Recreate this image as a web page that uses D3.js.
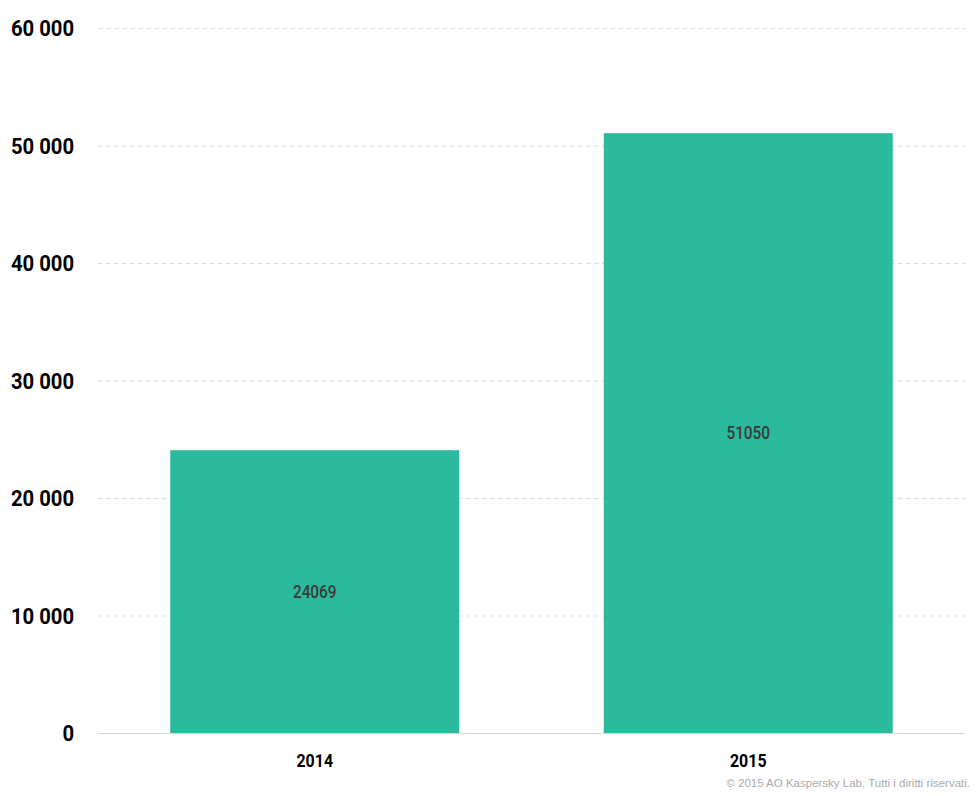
<!DOCTYPE html>
<html>
<head>
<meta charset="utf-8">
<script src="https://cdn.jsdelivr.net/npm/d3@7"></script>
<style>
  body { margin: 0; background: #fff; }
  svg { display: block; }
  .cond { font-family: Roboto, 'DejaVu Sans', sans-serif; }
</style>
</head>
<body>
<svg id="chart" width="979" height="796"></svg>
<script>
var years = ["2014", "2015"];
var counts = [24069, 51050];
var yTicks = [0, 10000, 20000, 30000, 40000, 50000, 60000];
var copyright = "© 2015 AO Kaspersky Lab. Tutti i diritti riservati.";

var svg = d3.select("#chart");
var plotLeft = 98, plotRight = 965, plotTop = 28, plotBottom = 733;

var x = d3.scaleBand().domain(years).range([plotLeft, plotRight])
  .paddingInner(1 / 3).paddingOuter(1 / 6);
var y = d3.scaleLinear().domain([0, 60000]).range([plotBottom, plotTop]);

// squeezes a label horizontally to mimic the condensed face
function squeezed(sel, px, py, sx) {
  return sel.append("g")
    .attr("transform", function(d, i) { return "translate(" + px(d, i) + "," + py(d, i) + ") scale(" + sx + ",1)"; })
    .append("text")
    .attr("class", "cond")
    .attr("dy", "0.36em");
}

// gridlines
svg.append("g").selectAll("line").data(yTicks.filter(function(t) { return t > 0; }))
  .enter().append("line")
  .attr("x1", plotLeft).attr("x2", plotRight)
  .attr("y1", function(d) { return y(d) + 0.5; })
  .attr("y2", function(d) { return y(d) + 0.5; })
  .style("stroke", "#dcdcdc")
  .style("stroke-dasharray", "5,3");

// y tick labels
squeezed(svg.append("g").selectAll("g").data(yTicks).enter(),
    function() { return 74; }, function(d) { return y(d); }, 0.9)
  .attr("text-anchor", "end")
  .style("font-weight", "bold")
  .style("font-size", "22.5px")
  .style("fill", "#000")
  .text(function(d) { return d === 0 ? "0" : d3.format(",")(d).replace(",", " "); });

// bars
svg.append("g").selectAll("rect").data(counts)
  .enter().append("rect")
  .attr("x", function(d, i) { return x(years[i]); })
  .attr("y", function(d) { return y(d); })
  .attr("width", x.bandwidth())
  .attr("height", function(d) { return plotBottom - y(d); })
  .style("fill", "#2bbb9c");

// value labels
squeezed(svg.append("g").selectAll("g").data(counts).enter(),
    function(d, i) { return x(years[i]) + x.bandwidth() / 2; },
    function(d) { return (y(d) + plotBottom) / 2; }, 0.88)
  .attr("text-anchor", "middle")
  .style("font-weight", "500")
  .style("font-size", "17.5px")
  .style("fill", "#3a3a3a")
  .text(function(d) { return d; });

// baseline
svg.append("line")
  .attr("x1", plotLeft).attr("x2", plotRight)
  .attr("y1", plotBottom + 0.5).attr("y2", plotBottom + 0.5)
  .style("stroke", "#d6d6d6");

// x labels
squeezed(svg.append("g").selectAll("g").data(years).enter(),
    function(d) { return x(d) + x.bandwidth() / 2; }, function() { return 760; }, 0.84)
  .attr("text-anchor", "middle")
  .style("font-weight", "bold")
  .style("font-size", "19px")
  .style("fill", "#000")
  .text(function(d) { return d; });

svg.append("text")
  .attr("x", 970)
  .attr("y", 787)
  .attr("text-anchor", "end")
  .style("font-family", "'Liberation Sans', Arial, sans-serif")
  .style("font-size", "11.5px")
  .style("fill", "#aaa")
  .text(copyright);
</script>
</body>
</html>
